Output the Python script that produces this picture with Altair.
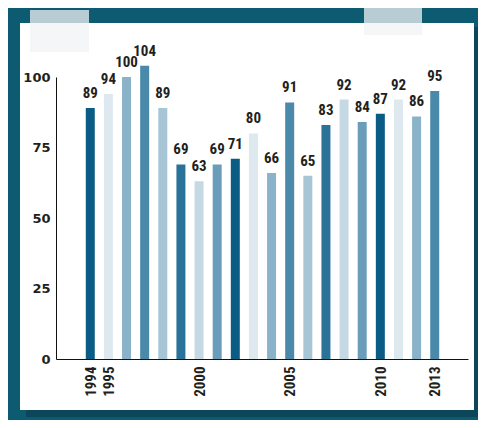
import altair as alt
import pandas as pd

years = list(range(1994, 2014))
values = [89, 94, 100, 104, 89, 69, 63, 69, 71, 80, 66, 91, 65, 83, 92, 84, 87, 92, 86, 95]
palette = ["#0b5c85", "#dde9ef", "#8ab3c9", "#4a89a9", "#a6c6d6", "#2a7298", "#c4d9e4", "#6a9db9"]
colors = [palette[i % len(palette)] for i in range(len(years))]
x_ticks = [1994, 1995, 2000, 2005, 2010, 2013]
y_ticks = [0, 25, 50, 75, 100]

df = pd.DataFrame({"year": years, "value": values, "color": colors})

W, H = 412, 282
NARROW = "Roboto Condensed, Liberation Sans Narrow, DejaVu Sans Condensed, Roboto, sans-serif"

one = alt.Data(values=[{}])

shadow = alt.Chart(one).mark_rect(color="#0a3442", opacity=0.5).encode(
    x=alt.value(-30), x2=alt.value(426), y=alt.value(-50), y2=alt.value(340)
)
paper = alt.Chart(one).mark_rect(color="white").encode(
    x=alt.value(-36), x2=alt.value(418), y=alt.value(-54), y2=alt.value(333)
)
tape1 = alt.Chart(one).mark_rect(color="#f0f3f4", opacity=0.75).encode(
    x=alt.value(-26), x2=alt.value(33), y=alt.value(-67), y2=alt.value(-25)
)
tape2 = alt.Chart(one).mark_rect(color="#f0f3f4", opacity=0.75).encode(
    x=alt.value(308), x2=alt.value(366), y=alt.value(-77), y2=alt.value(-42)
)

xscale = alt.Scale(domain=[1992.385, 2014.56], nice=False, zero=False)
yscale = alt.Scale(domain=[0, 100], nice=False)

base = alt.Chart(df)

bars = base.mark_bar(size=9).encode(
    x=alt.X("year:Q", scale=xscale,
            axis=alt.Axis(values=x_ticks, format="d", labelAngle=-90, ticks=False, grid=False,
                          domainColor="#111", domainWidth=1, labelFont=NARROW, labelFontSize=15,
                          labelFontWeight="bold", labelColor="#231f20", labelPadding=7,
                          labelOverlap=False, title=None, zindex=1)),
    y=alt.Y("value:Q", scale=yscale,
            axis=alt.Axis(values=y_ticks, ticks=False, grid=False, domainColor="#111", domainWidth=1,
                          labelFont="DejaVu Sans", labelFontSize=13, labelFontWeight="bold",
                          labelColor="#231f20", labelPadding=6, title=None, zindex=1)),
    color=alt.Color("color:N", scale=None),
)

labels = base.mark_text(dy=-7, baseline="bottom", font=NARROW, fontSize=15,
                        fontWeight="bold", color="#231f20").encode(
    x=alt.X("year:Q", scale=xscale),
    y=alt.Y("value:Q", scale=yscale),
    text=alt.Text("value:Q"),
)

chart = alt.layer(shadow, paper, tape1, tape2, bars, labels).properties(
    width=W, height=H,
    autosize=alt.AutoSizeParams(type="none"),
    padding={"left": 48, "top": 69, "right": 10, "bottom": 61},
    background="#0d5b71",
).configure_view(stroke=None)

chart.save("out.html", embed_options={"renderer": "svg", "actions": False})
